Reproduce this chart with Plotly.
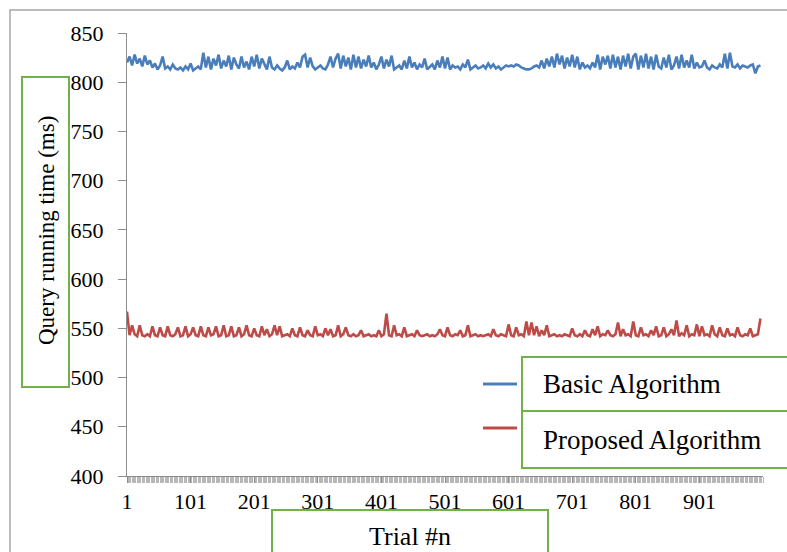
import plotly.graph_objects as go

trial_step = 4
basic_ms = [
    820, 826, 817, 828, 819, 824, 816, 827, 818, 822,
    815, 819, 813, 817, 826, 814, 816, 813, 818, 814,
    813, 815, 812, 816, 813, 819, 812, 814, 816, 813,
    830, 815, 826, 813, 824, 817, 828, 814, 822, 816,
    827, 813, 825, 818, 814, 826, 815, 821, 813, 826,
    816, 828, 814, 824, 818, 813, 826, 815, 813, 817,
    814, 812, 815, 822, 813, 816, 814, 820, 815, 826,
    828, 815, 825, 816, 813, 815, 817, 814, 813, 818,
    826, 815, 824, 829, 814, 827, 816, 825, 813, 828,
    815, 826, 814, 823, 816, 827, 815, 820, 813, 818,
    826, 814, 823, 816, 827, 813, 815, 817, 813, 822,
    814, 826, 815, 820, 813, 818, 815, 824, 813, 816,
    818, 813, 822, 815, 826, 814, 825, 813, 817, 815,
    816, 813, 818, 815, 823, 813, 815, 817, 814, 815,
    817, 814, 819, 815, 818, 814, 816, 813, 815, 817,
    816, 817, 816, 818, 817, 815, 814, 813, 813, 814,
    816, 817, 815, 822, 814, 824, 816, 826, 815, 829,
    818, 827, 814, 825, 816, 828, 815, 826, 813, 820,
    815, 817, 814, 820, 815, 828, 813, 826, 818, 827,
    814, 828, 815, 826, 813, 827, 816, 829, 814, 826,
    829, 813, 827, 815, 829, 814, 826, 813, 828, 816,
    814, 825, 815, 828, 813, 817, 826, 814, 828, 815,
    822, 815, 828, 814, 820, 815, 816, 822, 815, 813,
    817, 815, 814, 818, 815, 829, 814, 830, 816, 815,
    818, 814, 817, 816, 815, 817, 818, 809, 816, 817,
]
proposed_ms = [
    567, 543, 553, 544, 542, 553, 543, 542, 544, 542,
    552, 543, 542, 551, 543, 542, 552, 543, 542, 544,
    551, 542, 543, 552, 542, 544, 551, 543, 542, 552,
    543, 542, 551, 543, 544, 552, 542, 543, 553, 542,
    543, 552, 542, 543, 551, 542, 544, 553, 543, 542,
    550, 543, 542, 552, 543, 549, 542, 544, 553, 543,
    552, 542, 543, 544, 542, 550, 543, 542, 551, 543,
    542, 548, 543, 542, 552, 543, 544, 542, 550, 543,
    549, 542, 543, 553, 542, 544, 551, 543, 542, 544,
    542, 543, 548, 542, 543, 544, 542, 543, 542, 548,
    542, 544, 565, 543, 542, 553, 543, 544, 542, 551,
    542, 543, 544, 542, 548, 543, 542, 543, 544, 542,
    543, 542, 544, 549, 543, 542, 551, 543, 542, 544,
    543, 548, 542, 543, 553, 542, 543, 544, 542, 543,
    542, 543, 544, 542, 549, 543, 542, 544, 543, 542,
    554, 543, 542, 551, 543, 544, 542, 557, 543, 556,
    543, 552, 542, 548, 543, 553, 542, 543, 544, 542,
    543, 542, 544, 543, 542, 550, 543, 542, 544, 542,
    548, 543, 542, 549, 543, 552, 542, 544, 543, 548,
    543, 542, 544, 556, 542, 549, 543, 544, 542, 557,
    543, 542, 551, 543, 544, 542, 548, 543, 552, 542,
    543, 551, 542, 544, 549, 543, 558, 542, 545, 543,
    553, 542, 544, 543, 554, 542, 552, 543, 544, 542,
    553, 544, 542, 551, 543, 542, 550, 543, 544, 542,
    551, 543, 542, 544, 543, 550, 542, 543, 544, 560,
]
trials = [1 + trial_step * i for i in range(len(basic_ms))]

x_tick_vals = [1, 101, 201, 301, 401, 501, 601, 701, 801, 901]
x_tick_text = [str(v) for v in x_tick_vals]
y_tick_vals = [400, 450, 500, 550, 600, 650, 700, 750, 800, 850]

series_names = ["Basic Algorithm", "Proposed Algorithm"]
series_colors = ["#4A7EBB", "#BE4B48"]

# ---------------- layout helpers (page pixel -> paper) ----------------
W, H = 787, 552
L, R, T, B = 127, 24, 33, 76
PW, PH = W - L - R, H - T - B


def px(x):
    return (x - L) / PW


def py(y):
    return (H - B - y) / PH


FONT = "Liberation Serif, Times New Roman, serif"
GREEN = "#72B04A"

fig = go.Figure()
for name, vals, col in zip(series_names, [basic_ms, proposed_ms], series_colors):
    fig.add_trace(go.Scatter(x=trials, y=vals, mode="lines", name=name,
                             line=dict(color=col, width=2.6), showlegend=False))

shapes = []
# outer chart border
shapes.append(dict(type="rect", xref="paper", yref="paper",
                   x0=px(10), x1=px(830), y0=py(600), y1=py(10),
                   line=dict(color="#A6A6A6", width=1.5), layer="below"))
# y-title box
shapes.append(dict(type="rect", xref="paper", yref="paper",
                   x0=px(22), x1=px(69), y0=py(387), y1=py(77),
                   line=dict(color=GREEN, width=2)))
# x-title box
shapes.append(dict(type="rect", xref="paper", yref="paper",
                   x0=px(272), x1=px(548), y0=py(600), y1=py(510),
                   line=dict(color=GREEN, width=2)))
# legend boxes
shapes.append(dict(type="rect", xref="paper", yref="paper",
                   x0=px(522), x1=px(830), y0=py(411), y1=py(357),
                   line=dict(color=GREEN, width=2)))
shapes.append(dict(type="rect", xref="paper", yref="paper",
                   x0=px(522), x1=px(830), y0=py(468), y1=py(411),
                   line=dict(color=GREEN, width=2)))
# legend samples
for col, yy in zip(series_colors, [384, 428]):
    shapes.append(dict(type="line", xref="paper", yref="paper",
                       x0=px(483), x1=px(517), y0=py(yy), y1=py(yy),
                       line=dict(color=col, width=3)))

annotations = [
    dict(text="Query running time (ms)", xref="paper", yref="paper",
         x=px(46), y=py(231), textangle=-90, showarrow=False,
         font=dict(family=FONT, size=23, color="black"),
         xanchor="center", yanchor="middle"),
    dict(text="Trial #n", xref="paper", yref="paper",
         x=px(410), y=py(536), showarrow=False,
         font=dict(family=FONT, size=26, color="black"),
         xanchor="center", yanchor="middle"),
    dict(text=series_names[0], xref="paper", yref="paper",
         x=px(541), y=py(384), showarrow=False,
         font=dict(family=FONT, size=27, color="black"),
         xanchor="left", yanchor="middle"),
    dict(text=series_names[1], xref="paper", yref="paper",
         x=px(541), y=py(440), showarrow=False,
         font=dict(family=FONT, size=27, color="black"),
         xanchor="left", yanchor="middle"),
]

fig.update_layout(
    width=W, height=H,
    margin=dict(l=L, r=R, t=T, b=B),
    paper_bgcolor="white", plot_bgcolor="white",
    font=dict(family=FONT, size=22, color="black"),
    shapes=shapes, annotations=annotations,
    showlegend=False,
)
fig.update_xaxes(
    range=[1, 1001], tickmode="array", tickvals=x_tick_vals, ticktext=x_tick_text,
    showgrid=False, zeroline=False, showline=True, linecolor="#8C8C8C", linewidth=1,
    ticks="outside", ticklen=6, tickcolor="#8C8C8C",
    tickfont=dict(family=FONT, size=22, color="black"),
    minor=dict(tick0=1, dtick=2, ticks="outside", ticklen=6, tickcolor="#B8B8B8", tickwidth=1, showgrid=False),
)
fig.update_yaxes(
    range=[400, 850], tickmode="array", tickvals=y_tick_vals,
    showgrid=False, zeroline=False, showline=True, linecolor="#8C8C8C", linewidth=1,
    ticks="outside", ticklen=8, tickcolor="#8C8C8C", ticklabelstandoff=10,
    tickfont=dict(family=FONT, size=22, color="black"),
)

fig.write_html("out.html", config={"displayModeBar": False},
               post_script="document.body.style.margin='0';document.body.style.overflow='hidden';")
